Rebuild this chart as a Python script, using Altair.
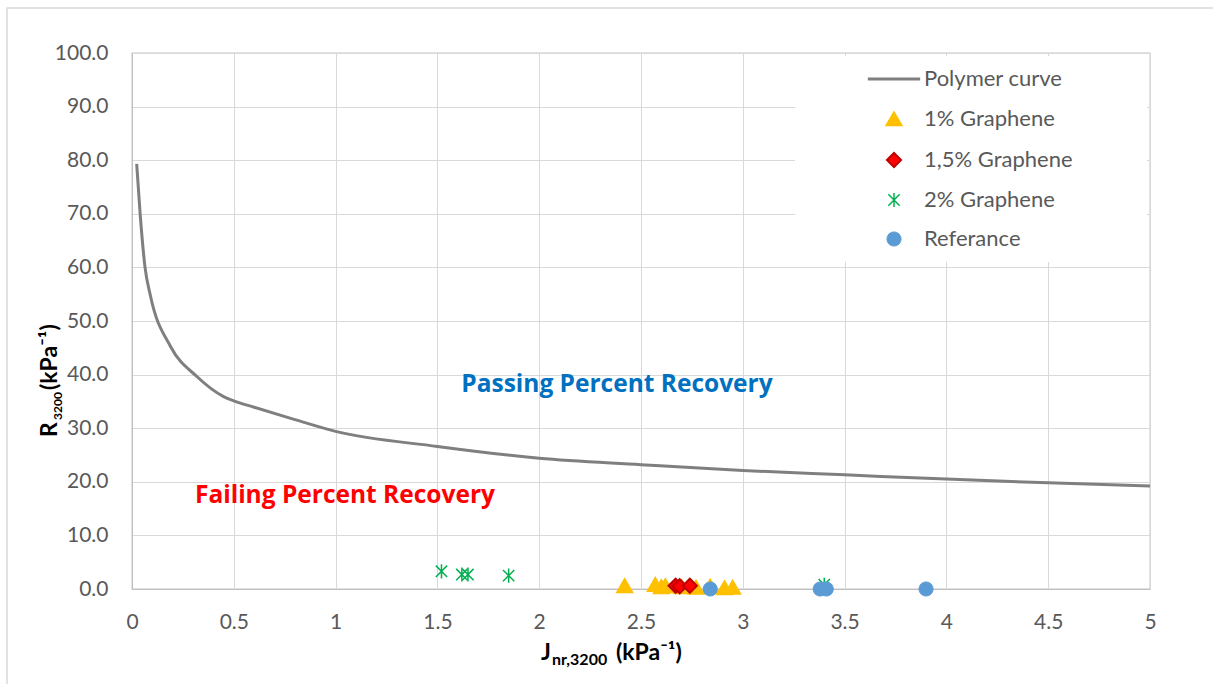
import altair as alt
import pandas as pd

# ---------------- data ----------------
curve_x = [0.023, 0.04, 0.064, 0.09, 0.19, 0.32, 0.45, 0.5, 0.6, 0.8, 1.0, 1.5, 2.0, 2.5, 3.0, 3.5, 4.0, 4.5, 5.0]
curve_y = [79.3, 70.0, 60.0, 54.8, 45.2, 39.6, 35.9, 35.1, 33.9, 31.6, 29.4, 26.6, 24.4, 23.2, 22.1, 21.3, 20.5, 19.8, 19.2]

g1_x = [2.42, 2.57, 2.60, 2.62, 2.70, 2.77, 2.84, 2.91, 2.95]
g1_y = [0.6, 0.8, 0.4, 0.6, 0.4, 0.3, 0.5, 0.2, 0.3]
g15_x = [2.67, 2.69, 2.74]
g15_y = [0.6, 0.5, 0.6]
g2_x = [1.52, 1.62, 1.65, 1.85, 3.40]
g2_y = [3.3, 2.7, 2.7, 2.5, 0.8]
ref_x = [2.84, 3.38, 3.41, 3.90]
ref_y = [0.0, 0.0, 0.0, 0.0]

series_names = ["Polymer curve", "1% Graphene", "1,5% Graphene", "2% Graphene", "Referance"]
fill_colors = ["#7F7F7F", "#FFC000", "#FF0000", "transparent", "#5B9BD5"]
stroke_colors = ["#7F7F7F", "#FFC000", "#C00000", "#00B050", "#5B9BD5"]
LINE_PATH = "M-3.7,0L3.7,0"
STAR_PATH = "M0,-1L0,1M-0.8,-0.8L0.8,0.8M-0.8,0.8L0.8,-0.8"
shapes = [LINE_PATH, "triangle-up", "diamond", STAR_PATH, "circle"]
sizes = [200, 200, 150, 250, 225]
stroke_widths = [3, 1, 1, 2, 1]

label_text = ["Passing Percent Recovery", "Failing Percent Recovery"]
label_x = [2.382, 1.046]
label_y = [38.0, 17.35]
label_color = ["#0070C0", "#FF0000"]

y_ticks = [0, 10, 20, 30, 40, 50, 60, 70, 80, 90, 100]
x_ticks = [0, 0.5, 1, 1.5, 2, 2.5, 3, 3.5, 4, 4.5, 5]

# ---------------- frames ----------------
curve_df = pd.DataFrame({"x": curve_x, "y": curve_y})
pts = []
for name, xs, ys in [("1% Graphene", g1_x, g1_y), ("1,5% Graphene", g15_x, g15_y),
                     ("2% Graphene", g2_x, g2_y), ("Referance", ref_x, ref_y)]:
    for a, b in zip(xs, ys):
        pts.append({"series": name, "x": a, "y": b, "order": len(pts)})
pts_df = pd.DataFrame(pts)
lab_df = pd.DataFrame({"text": label_text, "x": label_x, "y": label_y, "color": label_color})

FONT = "Lato"
W, H = 1018, 536

xscale = alt.Scale(domain=[0, 5], nice=False, zero=False)
yscale = alt.Scale(domain=[0, 100], nice=False)

xaxis = alt.Axis(values=x_ticks, format="~g", title=None, grid=True, ticks=False,
                 labelPadding=22, labelFontSize=21, labelColor="#595959", labelFont=FONT,
                 domainColor="#BFBFBF", gridColor="#D9D9D9", labelFlush=False)
yaxis = alt.Axis(values=y_ticks, format=".1f", title=None, grid=True, ticks=False,
                 labelPadding=24, labelFontSize=21, labelColor="#595959", labelFont=FONT,
                 domainColor="#BFBFBF", gridColor="#D9D9D9")

legend = alt.Legend(title=None, orient="none", legendX=751, legendY=15,
                    labelFontSize=22, labelColor="#595959", labelFont=FONT,
                    labelOffset=19, rowPadding=17, padding=0, symbolOpacity=1)

dom = series_names

# white box behind legend (covers gridlines)
legend_box = alt.Chart(pd.DataFrame({"a": [0]})).mark_rect(fill="white").encode(
    x=alt.value(663), x2=alt.value(1015), y=alt.value(3), y2=alt.value(209))

# outer chart border
border = alt.Chart(pd.DataFrame({"a": [0]})).mark_rect(fill=None, stroke="#D9D9D9", strokeWidth=1.5).encode(
    x=alt.value(-125), x2=alt.value(1100), y=alt.value(-45), y2=alt.value(650))

line = alt.Chart(curve_df).mark_line(color="#7F7F7F", strokeWidth=3, interpolate="monotone").encode(
    x=alt.X("x:Q", scale=xscale, axis=xaxis),
    y=alt.Y("y:Q", scale=yscale, axis=yaxis),
)

points = alt.Chart(pts_df).mark_point(filled=True, opacity=1).encode(
    x=alt.X("x:Q", scale=xscale, axis=xaxis),
    y=alt.Y("y:Q", scale=yscale, axis=yaxis),
    shape=alt.Shape("series:N", scale=alt.Scale(domain=dom, range=shapes), legend=legend),
    fill=alt.Fill("series:N", scale=alt.Scale(domain=dom, range=fill_colors), legend=legend),
    stroke=alt.Stroke("series:N", scale=alt.Scale(domain=dom, range=stroke_colors), legend=legend),
    size=alt.Size("series:N", scale=alt.Scale(domain=dom, range=sizes), legend=legend),
    strokeWidth=alt.StrokeWidth("series:N", scale=alt.Scale(domain=dom, range=stroke_widths), legend=legend),
    order=alt.Order("order:Q"),
)

labels = alt.Chart(lab_df).mark_text(font="Open Sans", fontSize=24.5, fontWeight="bold", baseline="middle", align="center").encode(
    x=alt.X("x:Q", scale=xscale),
    y=alt.Y("y:Q", scale=yscale),
    text="text:N",
    color=alt.Color("color:N", scale=None),
)

# axis titles with subscripts (composed of text pieces)
def txt(s, x, y, size, angle=0, align="left"):
    return alt.Chart(pd.DataFrame({"t": [s]})).mark_text(
        font=FONT, fontSize=size, fontWeight="bold", color="black", align=align,
        baseline="alphabetic", angle=angle).encode(text="t:N", x=alt.value(x), y=alt.value(y))

xt = txt("J", 409, 607, 23) + txt("nr,3200", 420, 612, 16) + txt("(kPa⁻¹)", 484, 607, 23)
yt = txt("R", -75, 384, 23, angle=270) + txt("3200", -70, 367, 12, angle=270) + txt("(kPa⁻¹)", -75, 337, 23, angle=270)

chart = alt.layer(border, legend_box, line, points, labels, xt, yt).properties(
    width=W, height=H,
    autosize=alt.AutoSizeParams(type="none"),
    padding={"left": 132, "top": 53, "right": 63, "bottom": 95},
    background="white",
).configure_view(stroke="#D9D9D9", strokeWidth=1.5)

chart.save("out.html", embed_options={"renderer": "svg", "actions": False})
